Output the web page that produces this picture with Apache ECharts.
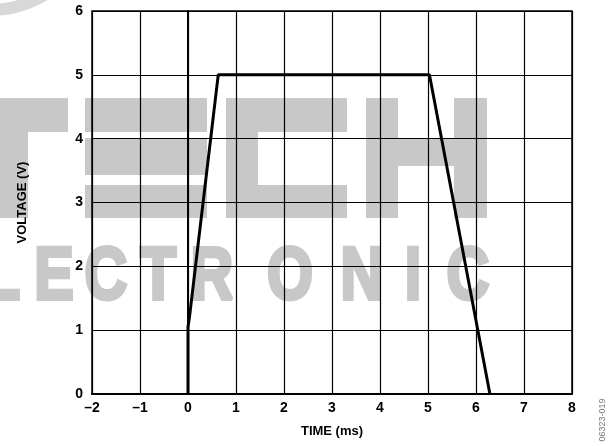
<!DOCTYPE html>
<html>
<head>
<meta charset="utf-8">
<script src="https://cdn.jsdelivr.net/npm/echarts@6/dist/echarts.min.js"></script>
<style>
  html, body { margin: 0; padding: 0; background: #fff; }
  #chart { width: 608px; height: 446px; }
</style>
</head>
<body>
<div id="chart"></div>
<script>
// pulse trace, time in ms / voltage in V
let timeMs = [0, 0, 0.03, 0.63, 5.03, 6.29];
let voltage = [0, 1.05, 1.2, 5.0, 5.0, 0];

let xTicks = [-2, -1, 0, 1, 2, 3, 4, 5, 6, 7, 8];
let yTicks = [0, 1, 2, 3, 4, 5, 6];

let gray = '#c8c8c8';
let font = 'Liberation Sans';

// background watermark, blocky "TECH"
let blocks = [
  [0, 98, 68, 34], [0, 132, 28, 86],                 // T
  [85, 98, 122, 34], [85, 138, 122, 37], [85, 185, 122, 33], // E
  [226, 98, 121, 34], [226, 132, 32, 53], [226, 185, 121, 33], // C
  [366, 98, 32, 120], [454, 98, 33, 120], [398, 138, 56, 28]   // H
];
let wmLetters = ['E', 'L', 'E', 'C', 'T', 'R', 'O', 'N', 'I', 'C'];
let wmX = [-50, 2, 54, 106, 158, 212, 290, 362, 413, 468];

let graphics = blocks.map(function(b) {
  return {
    type: 'rect', z: -10, silent: true,
    shape: { x: b[0], y: b[1], width: b[2], height: b[3] },
    style: { fill: gray }
  };
});
wmLetters.forEach(function(ch, i) {
  graphics.push({
    type: 'text', z: -10, silent: true,
    x: wmX[i], y: 279, scaleX: 0.8,
    style: {
      text: ch, fill: gray, fontFamily: font, fontWeight: 'bold', fontSize: 74,
      stroke: gray, lineWidth: 4,
      align: 'center', verticalAlign: 'middle'
    }
  });
});
graphics.push({
  type: 'arc', z: -10, silent: true,
  shape: { cx: -10, cy: -95, r: 105, startAngle: Math.PI * 0.25, endAngle: Math.PI * 0.6 },
  style: { stroke: '#d8d8d8', lineWidth: 12, fill: null }
});
graphics.push({
  type: 'text', silent: true,
  x: 603, y: 420, rotation: Math.PI / 2,
  style: {
    text: '06323-019', fill: '#777', fontFamily: font, fontSize: 9,
    align: 'center', verticalAlign: 'middle'
  }
});

let option = {
  animation: false,
  backgroundColor: '#fff',
  graphic: graphics,
  grid: {
    left: 92, right: 36, top: 11, bottom: 52,
    show: true, borderColor: '#000', borderWidth: 1.5,
    backgroundColor: 'transparent'
  },
  xAxis: {
    type: 'value',
    min: xTicks[0], max: xTicks[xTicks.length - 1], interval: 1,
    name: 'TIME (ms)',
    nameLocation: 'middle',
    nameGap: 31,
    nameTextStyle: { color: '#000', fontWeight: 'bold', fontSize: 13, fontFamily: font },
    axisLine: { show: true, onZero: false, lineStyle: { color: '#000', width: 2 } },
    axisTick: { show: false },
    axisLabel: {
      color: '#000', fontWeight: 'bold', fontSize: 14, fontFamily: font, margin: 7,
      formatter: function(v) { return String(v).replace('-', '\u2013'); }
    },
    splitLine: { show: true, lineStyle: { color: '#000', width: 1.2 } }
  },
  yAxis: {
    type: 'value',
    min: yTicks[0], max: yTicks[yTicks.length - 1], interval: 1,
    name: 'VOLTAGE (V)',
    nameLocation: 'middle',
    nameGap: 63,
    nameTextStyle: { color: '#000', fontWeight: 'bold', fontSize: 13, fontFamily: font },
    axisLine: { show: true, lineStyle: { color: '#000', width: 2 } },
    axisTick: { show: false },
    axisLabel: { color: '#000', fontWeight: 'bold', fontSize: 14, fontFamily: font, margin: 9 },
    splitLine: { show: true, lineStyle: { color: '#000', width: 1.2 } }
  },
  series: [{
    type: 'line',
    data: timeMs.map(function(t, i) { return [t, voltage[i]]; }),
    showSymbol: false,
    symbol: 'none',
    lineStyle: { color: '#000', width: 3 }
  }]
};

let chart = echarts.init(document.getElementById('chart'));
chart.setOption(option);
</script>
</body>
</html>
